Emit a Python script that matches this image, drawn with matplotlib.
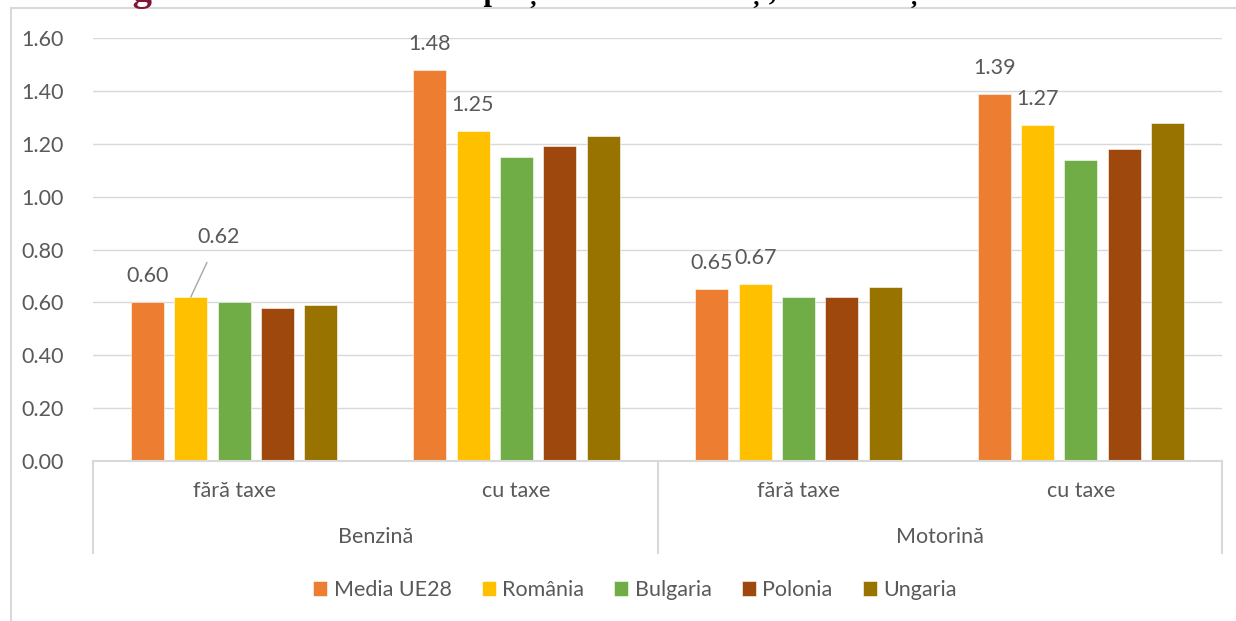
import matplotlib.pyplot as plt
import matplotlib.transforms as mtransforms
from matplotlib.patches import Rectangle

# categories (two levels) and series
fuels = ['Benzină', 'Motorină']
tax_types = ['fără taxe', 'cu taxe']
countries = ['Media UE28', 'România', 'Bulgaria', 'Polonia', 'Ungaria']

media_ue28 = [0.60, 1.48, 0.65, 1.39]
romania = [0.62, 1.25, 0.67, 1.27]
bulgaria = [0.60, 1.15, 0.62, 1.14]
polonia = [0.58, 1.19, 0.62, 1.18]
ungaria = [0.59, 1.23, 0.66, 1.28]

yticks = [0.0, 0.2, 0.4, 0.6, 0.8, 1.0, 1.2, 1.4, 1.6]

series = [media_ue28, romania, bulgaria, polonia, ungaria]
colors = ['#ED7D31', '#FFC000', '#70AD47', '#9E480E', '#997300']
txt = '#595959'
grid = '#D9D9D9'
fs = 15.5

plt.rcParams['font.family'] = ['Lato', 'DejaVu Sans']

W, H = 1236, 621
fig = plt.figure(figsize=(W / 100, H / 100), dpi=100)
fig.patch.set_facecolor('white')

# outer chart border (only top and left visible)
fig.patches.append(Rectangle((11 / W, -0.1), 2, (H - 8) / H + 0.1,
                             transform=fig.transFigure, fill=False,
                             edgecolor=grid, lw=1.5))

# title, cut off at the top edge like in the original
fig.text(98 / W, 1.0, 'Figura 7.', color='#7F1734', fontsize=28,
         fontweight='bold', family='Liberation Serif', va='baseline', ha='left')
fig.text(262 / W, 1.0, 'Nivelul mediu al prețului la carburanți, fără taxe și cu taxe',
         color='black', fontsize=22, fontweight='bold', family='Liberation Serif',
         va='baseline', ha='left')

ax = fig.add_axes([93 / W, (H - 461) / H, (1222 - 93) / W, (461 - 38) / H])

ncat = len(media_ue28)
width = 33 / 282
step = 43.3 / 282
for i, (vals, c, name) in enumerate(zip(series, colors, countries)):
    xs = [k + (i - 2) * step for k in range(ncat)]
    ax.bar(xs, vals, width=width, color=c, label=name, zorder=3,
           edgecolor='white', linewidth=0.4)
    if i < 2:
        for k, (x, v) in enumerate(zip(xs, vals)):
            if i == 1 and k == 0:
                ax.annotate(f'{v:.2f}', xy=(x, v), xytext=(28, 60),
                            textcoords='offset pixels', ha='center', va='center',
                            fontsize=fs, color=txt,
                            arrowprops=dict(arrowstyle='-', color='#A6A6A6', lw=1,
                                            shrinkA=10, shrinkB=0))
            else:
                ax.annotate(f'{v:.2f}', xy=(x, v), xytext=(0, 26),
                            textcoords='offset pixels', ha='center', va='center',
                            fontsize=fs, color=txt)

ax.set_xlim(-0.5, ncat - 0.5)
ax.set_ylim(0, 1.6)
ax.set_yticks(yticks)
ax.set_yticklabels([f'{t:.2f}' for t in yticks], fontsize=fs, color=txt)
ax.tick_params(axis='y', length=0, pad=21)
ax.tick_params(axis='x', length=0, labelbottom=False)
ax.yaxis.grid(True, color=grid, lw=1, zorder=0)
for s in ['left', 'right', 'top']:
    ax.spines[s].set_visible(False)
ax.spines['bottom'].set_color(grid)
ax.spines['bottom'].set_linewidth(1.5)
ax.spines['bottom'].set_zorder(4)

# multi-level category axis
trans = mtransforms.blended_transform_factory(ax.transData, ax.transAxes)
ah = 461 - 38
for k in range(ncat):
    ax.text(k, -30 / ah, tax_types[k % 2], transform=trans, ha='center',
            va='center', fontsize=fs, color=txt)
for j, f in enumerate(fuels):
    ax.text(2 * j + 0.5, -76 / ah, f, transform=trans, ha='center',
            va='center', fontsize=fs, color=txt)
for xv in [-0.5, 1.5, 3.5]:
    ax.plot([xv, xv], [0, -92 / ah], transform=trans, color=grid, lw=1.5,
            clip_on=False)

ax.legend(loc='center', bbox_to_anchor=(635 / W, 1 - 590 / H),
          bbox_transform=fig.transFigure, ncol=5, frameon=False, fontsize=fs,
          handlelength=0.65, handleheight=0.65, handletextpad=0.3,
          columnspacing=1.4, labelcolor=txt)

fig.savefig('out.png', dpi=100)
